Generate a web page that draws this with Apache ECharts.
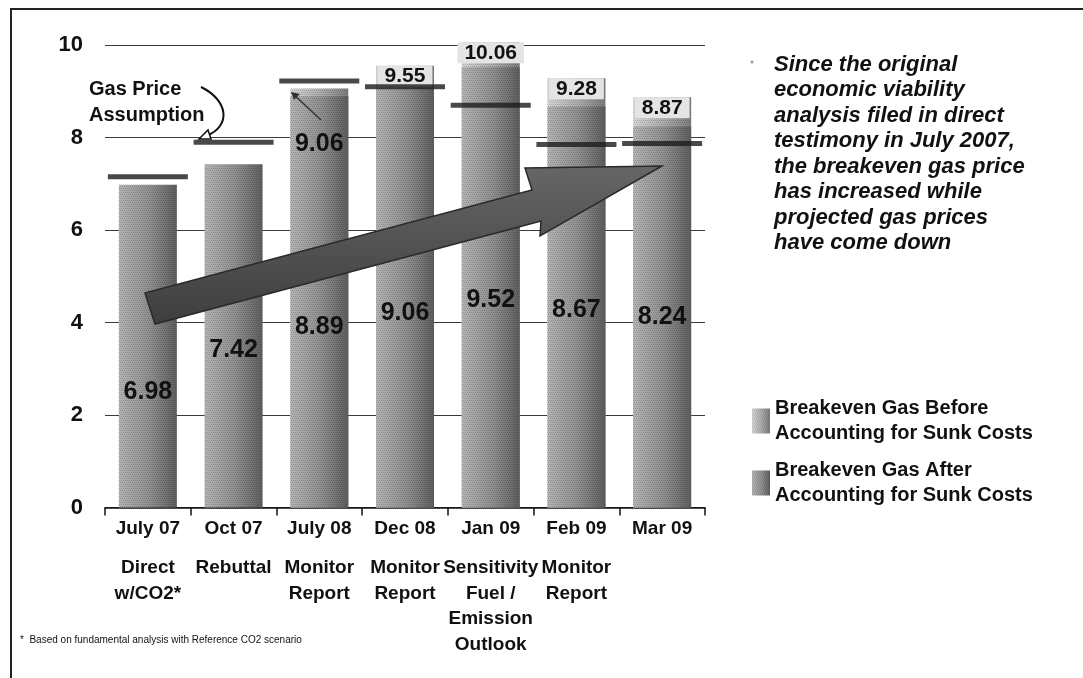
<!DOCTYPE html>
<html>
<head>
<meta charset="utf-8">
<title>Breakeven gas price</title>
<script src="https://cdn.jsdelivr.net/npm/echarts@6/dist/echarts.min.js"></script>
<style>
  html, body { margin: 0; padding: 0; background: #fff; }
  #main { width: 1083px; height: 678px; }
</style>
</head>
<body>
<div id="main"></div>
<script>
// chart data
const months = ['July 07', 'Oct 07', 'July 08', 'Dec 08', 'Jan 09', 'Feb 09', 'Mar 09'];
const filings = ['Direct\nw/CO2*', 'Rebuttal', 'Monitor\nReport', 'Monitor\nReport',
  'Sensitivity\nFuel /\nEmission\nOutlook', 'Monitor\nReport', ''];
const beforeSunk = [null, null, 9.06, 9.55, 10.06, 9.28, 8.87];
const afterSunk = [6.98, 7.42, 8.89, 9.06, 9.52, 8.67, 8.24];
const gasPrice = [7.15, 7.9, 9.22, 9.1, 8.7, 7.85, 7.87];
const yTicks = { min: 0, max: 10, interval: 2 };

const FONT = '"Liberation Sans", Arial, sans-serif';

let chart = echarts.init(document.getElementById('main'));

// bar fill: light on the left, darker on the right like the scanned bars
const barFill = (a, b, c) => new echarts.graphic.LinearGradient(0, 0, 1, 0, [
  { offset: 0, color: a }, { offset: 0.55, color: b }, { offset: 1, color: c }
]);
// fine speckle so the bars look a bit like the halftone in the scan
const speckle = {
  symbol: 'rect',
  symbolSize: 1,
  dashArrayX: [[1, 1], [0, 1, 1, 0]],
  dashArrayY: [1, 1],
  color: 'rgba(0,0,0,0.18)'
};

// value labels of the "after" bars were placed by hand in the slide
const afterNudge = [46, 14, 25, 15, 13, 3, 0];

let option = {
  animation: false,
  grid: { left: 105, right: 378, top: 45, bottom: 170.5 },
  legend: {
    orient: 'vertical',
    left: 752,
    top: 396,
    padding: 0,
    itemWidth: 18,
    itemHeight: 25,
    itemGap: 12,
    icon: 'rect',
    selectedMode: false,
    textStyle: { fontFamily: FONT, fontSize: 20, fontWeight: 'bold', color: '#111', lineHeight: 25 },
    data: ['Breakeven Gas Before\nAccounting for Sunk Costs', 'Breakeven Gas After\nAccounting for Sunk Costs']
  },
  xAxis: [
    {
      type: 'category',
      data: months,
      axisLine: { lineStyle: { color: '#111', width: 1.5 } },
      axisTick: { show: true, length: 8, lineStyle: { color: '#111', width: 1.5 } },
      axisLabel: { interval: 0, margin: 12, fontFamily: FONT, fontSize: 19, fontWeight: 'bold', color: '#111' }
    },
    {
      type: 'category',
      data: filings,
      position: 'bottom',
      offset: 40,
      axisLine: { show: false },
      axisTick: { show: false },
      axisLabel: { interval: 0, margin: 8, lineHeight: 25.5, fontFamily: FONT, fontSize: 19, fontWeight: 'bold', color: '#111' }
    }
  ],
  yAxis: {
    type: 'value',
    min: yTicks.min,
    max: yTicks.max,
    interval: yTicks.interval,
    axisLine: { show: false },
    axisTick: { show: false },
    axisLabel: { margin: 22, fontFamily: FONT, fontSize: 22, fontWeight: 'bold', color: '#111' },
    splitLine: { lineStyle: { color: '#3a3a3a', width: 1 } }
  },
  series: [
    {
      name: 'Breakeven Gas Before\nAccounting for Sunk Costs',
      type: 'bar',
      barWidth: 58,
      barGap: '-100%',
      clip: false,
      itemStyle: { color: barFill('#d6d6d6', '#ababab', '#7c7c7c'), decal: speckle },
      label: {
        show: true,
        position: 'insideTop',
        distance: 0,
        fontFamily: FONT,
        fontSize: 21,
        fontWeight: 'bold',
        color: '#111',
        backgroundColor: '#e4e4e4',
        padding: [0, 7, 0, 7],
        formatter: p => p.value.toFixed(2)
      },
      data: beforeSunk.map((v, i) => i === 2
        ? { value: v, label: { backgroundColor: 'transparent', fontSize: 25, offset: [0, 43] } }
        : v)
    },
    {
      name: 'Breakeven Gas After\nAccounting for Sunk Costs',
      type: 'bar',
      barWidth: 58,
      clip: false,
      itemStyle: { color: barFill('#b4b4b4', '#8e8e8e', '#5e5e5e'), decal: speckle },
      label: {
        show: true,
        position: 'inside',
        fontFamily: FONT,
        fontSize: 25,
        fontWeight: 'bold',
        color: '#111',
        formatter: p => p.value.toFixed(2)
      },
      data: afterSunk.map((v, i) => ({ value: v, label: { offset: [0, afterNudge[i]] } }))
    },
    {
      name: 'Gas Price Assumption',
      type: 'scatter',
      symbol: 'rect',
      symbolSize: [80, 5],
      clip: false,
      z: 5,
      itemStyle: { color: '#1c1c1c' },
      data: gasPrice
    }
  ],
  graphic: [
    // frame of the slide
    { type: 'line', shape: { x1: 10, y1: 9, x2: 1083, y2: 9 }, style: { stroke: '#222', lineWidth: 2 } },
    { type: 'line', shape: { x1: 11, y1: 9, x2: 11, y2: 678 }, style: { stroke: '#222', lineWidth: 2 } },
    // big trend arrow
    {
      type: 'polygon', z: 20,
      shape: { points: [[145, 293], [532, 190], [525, 168], [662, 166], [540, 236], [541, 221], [155, 324]] },
      style: {
        fill: new echarts.graphic.LinearGradient(0, 0, 0, 1, [
          { offset: 0, color: '#666' }, { offset: 1, color: '#3e3e3e' }
        ]),
        stroke: '#2a2a2a', lineWidth: 1.5
      }
    },
    // small pointer inside the July 08 bar
    { type: 'line', z: 20, shape: { x1: 292, y1: 93, x2: 321, y2: 120 }, style: { stroke: '#333', lineWidth: 1.5 } },
    { type: 'polygon', z: 20, shape: { points: [[291, 92], [300, 94], [294, 100]] }, style: { fill: '#333' } },
    // "Gas Price Assumption" callout
    {
      type: 'text', left: 89, top: 76, z: 20,
      style: { text: 'Gas Price\nAssumption', fontFamily: FONT, fontSize: 20, fontWeight: 'bold', fill: '#111', lineHeight: 26 }
    },
    {
      type: 'bezierCurve', z: 20,
      shape: { x1: 201, y1: 87, cpx1: 228, cpy1: 100, cpx2: 232, cpy2: 126, x2: 206, y2: 136 },
      style: { stroke: '#111', lineWidth: 2, fill: null }
    },
    { type: 'polygon', z: 20, shape: { points: [[199, 139], [208, 130], [211, 139]] }, style: { fill: '#fff', stroke: '#111', lineWidth: 1.5 } },
    // side note
    { type: 'circle', shape: { cx: 752, cy: 62, r: 1.5 }, style: { fill: '#999' } },
    {
      type: 'text', left: 774, top: 52,
      style: {
        text: 'Since the original\neconomic viability\nanalysis filed in direct\ntestimony in July 2007,\nthe breakeven gas price\nhas increased while\nprojected gas prices\nhave come down',
        fontFamily: FONT, fontSize: 22, fontWeight: 'bold', fontStyle: 'italic', fill: '#111', lineHeight: 25.5
      }
    },
    // footnote
    {
      type: 'text', left: 20, top: 635,
      style: { text: '*  Based on fundamental analysis with Reference CO2 scenario', fontFamily: FONT, fontSize: 10, fill: '#111' }
    }
  ]
};

chart.setOption(option);
</script>
</body>
</html>
